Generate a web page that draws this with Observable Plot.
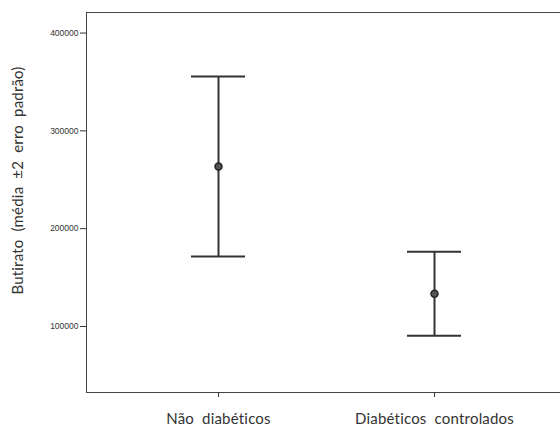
<!DOCTYPE html>
<html>
<head>
<meta charset="utf-8">
<script src="https://cdn.jsdelivr.net/npm/d3@7"></script>
<script src="https://cdn.jsdelivr.net/npm/@observablehq/plot@0.6"></script>
<style>
  html, body { margin: 0; padding: 0; background: #fff; overflow: hidden; }
  .label-font text { word-spacing: 4px; letter-spacing: 0.2px; }
</style>
</head>
<body>
<div id="chart"></div>
<script>
// Groups and their butyrate summaries (mean and standard error)
const groups = ["Não diabéticos", "Diabéticos controlados"];
const means = [263500, 133500];
const stdErrors = [46000, 21500];
const yTicks = [100000, 200000, 300000, 400000];
const yLabel = "Butirato (média ±2 erro padrão)";

const rows = groups.map((g, i) => ({
  group: g,
  mean: means[i],
  lower: means[i] - 2 * stdErrors[i],
  upper: means[i] + 2 * stdErrors[i]
}));

const ink = "#333";

const chart = Plot.plot({
  width: 560,
  height: 428,
  marginLeft: 86,
  marginRight: 0,
  marginTop: 12,
  marginBottom: 36,
  insetRight: -6,
  style: { background: "#fff", color: ink },
  x: {
    type: "band",
    domain: groups,
    paddingInner: 0.75,
    paddingOuter: 0.486,
    label: null
  },
  y: {
    domain: [32500, 421000],
    label: null
  },
  marks: [
    // plot area is open on the right: the box runs past the edge
    Plot.frame({ stroke: "#444", insetRight: -20 }),
    Plot.axisY(yTicks, {
      tickSize: 6,
      tickPadding: 2,
      tickFormat: d => String(d),
      fontSize: 8.5,
      fontFamily: "Liberation Sans",
      stroke: ink,
      fill: ink
    }),
    Plot.axisX({
      tickSize: 5,
      tickPadding: 16,
      fontSize: 15,
      fontFamily: "Lato",
      className: "label-font",
      stroke: ink,
      fill: ink
    }),
    Plot.text([yLabel], {
      frameAnchor: "left",
      textAnchor: "middle",
      rotate: -90,
      dx: -68,
      dy: -22,
      fontSize: 15,
      fontFamily: "Lato",
      className: "label-font",
      fill: ink
    }),
    Plot.ruleX(rows, { x: "group", y1: "lower", y2: "upper", stroke: ink, strokeWidth: 2 }),
    Plot.tickY(rows, { x: "group", y: "upper", stroke: ink, strokeWidth: 2 }),
    Plot.tickY(rows, { x: "group", y: "lower", stroke: ink, strokeWidth: 2 }),
    Plot.dot(rows, { x: "group", y: "mean", r: 3.5, fill: "#555", stroke: "#222", strokeWidth: 1.5 })
  ]
});

document.getElementById("chart").appendChild(chart);
</script>
</body>
</html>
